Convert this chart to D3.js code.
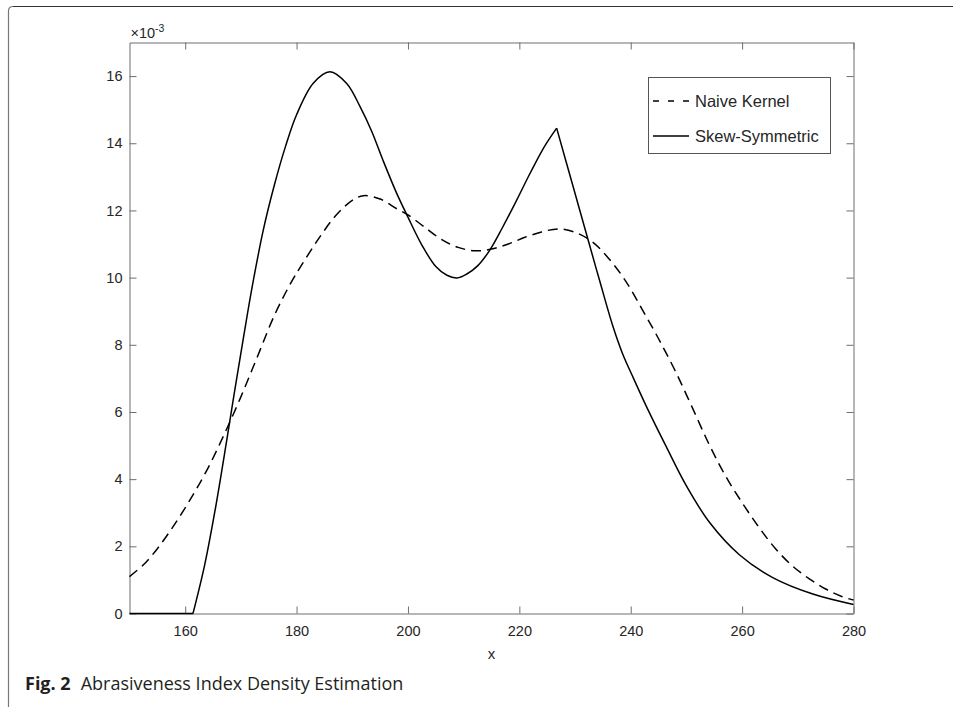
<!DOCTYPE html>
<html>

<head>
  <script src="https://d3js.org/d3.v7.min.js"></script>
  <style>
    body {
      margin: 0;
      background: #fff;
    }

    svg {
      display: block;
    }

    .tick-label {
      font-family: 'Liberation Sans', Arial, sans-serif;
      font-size: 14.5px;
      fill: #262626;
    }

    .caption {
      font-family: 'Open Sans', 'Noto Sans', sans-serif;
      font-size: 18px;
      fill: #231f20;
    }
  </style>
</head>

<body>
  <svg width="954" height="707"></svg>
</body>
<script>

  // x ticks and y ticks (y values are in units of 1e-3)
  var xTicks = [160, 180, 200, 220, 240, 260, 280];
  var yTicks = [0, 2, 4, 6, 8, 10, 12, 14, 16];

  // Naive Kernel density estimate
  var naiveX = [150, 152.5, 155, 158, 161, 164, 167, 170, 173, 176, 179, 181, 184, 187, 190, 192, 195, 198,
    200, 203, 206, 209, 212, 215, 218, 221, 224, 227, 230, 233, 236, 239, 242, 245, 248, 251, 254, 257,
    260, 263, 266, 269, 272, 275, 278, 280];
  var naiveY = [1.1, 1.45, 1.93, 2.63, 3.42, 4.3, 5.33, 6.45, 7.66, 8.87, 9.85, 10.4, 11.17, 11.84, 12.3, 12.44, 12.34, 12.05,
    11.87, 11.5, 11.14, 10.9, 10.8, 10.85, 11.0, 11.2, 11.36, 11.45, 11.35, 11.08, 10.58, 9.92, 9.07, 8.18, 7.22, 6.15, 5.06, 4.1,
    3.3, 2.57, 1.93, 1.42, 1.04, 0.73, 0.5, 0.4];

  // Skew-Symmetric estimate
  var skewX = [150, 161.4, 163.5, 165.5, 167.5, 169, 170.5, 172, 174, 176, 178, 180, 183, 186, 189, 191.4, 193.5, 195.5,
    198, 200, 202.5, 205, 207, 208.8, 210.5, 212.5, 214.7, 217, 219.5, 222, 224.5, 226.7, 229.5, 232.3, 234.5, 236.8,
    238.5, 240.5, 243, 246.4, 250, 254.2, 259.5, 265.5, 272.7, 280];
  var skewY = [0, 0, 1.45, 3.2, 5.2, 6.75, 8.25, 9.7, 11.4, 12.75, 13.9, 14.85, 15.79, 16.13, 15.78, 15.09, 14.35, 13.5,
    12.5, 11.8, 10.97, 10.33, 10.07, 9.99, 10.1, 10.35, 10.82, 11.5, 12.3, 13.13, 13.9, 14.45, 12.8, 11.15, 9.86, 8.55,
    7.75, 7.0, 6.1, 4.96, 3.8, 2.7, 1.75, 1.07, 0.58, 0.27];
  // places where the skew curve has a corner
  var skewKinks = [161.4, 226.7];

  var seriesNames = ['Naive Kernel', 'Skew-Symmetric'];

  var svg = d3.select("svg");
  var plotLeft = 129.5, plotRight = 853.5, plotTop = 42.5, plotBottom = 613.5;
  var axisColor = "#6e6e6e";

  var x = d3.scaleLinear().domain([150, 280]).range([plotLeft, plotRight]);
  var y = d3.scaleLinear().domain([0, 17]).range([plotBottom, plotTop]);

  // page frame (top rule and rounded left edge)
  svg.append("path")
    .attr("d", "M8.5,707 L8.5,11 Q8.5,6.5 13,6.5 L953,6.5")
    .attr("fill", "none").attr("stroke", "#777").attr("stroke-width", 1.2);
  svg.append("line")
    .attr("x1", 13).attr("x2", 953).attr("y1", 6.5).attr("y2", 6.5)
    .attr("stroke", "#333").attr("stroke-width", 1.2);

  // axes box with inward ticks on all sides
  var tl = 7;
  var g = svg.append("g");
  g.append("g").attr("transform", "translate(0," + plotBottom + ")")
    .call(d3.axisBottom(x).tickValues(xTicks).tickSizeInner(-tl).tickSizeOuter(0).tickPadding(12));
  g.append("g").attr("transform", "translate(0," + plotTop + ")")
    .call(d3.axisTop(x).tickValues(xTicks).tickSizeInner(-tl).tickSizeOuter(0).tickFormat(""));
  g.append("g").attr("transform", "translate(" + plotLeft + ",0)")
    .call(d3.axisLeft(y).tickValues(yTicks).tickSizeInner(-tl).tickSizeOuter(0).tickPadding(7));
  g.append("g").attr("transform", "translate(" + plotRight + ",0)")
    .call(d3.axisRight(y).tickValues(yTicks).tickSizeInner(-tl).tickSizeOuter(0).tickFormat(""));
  g.selectAll(".domain, .tick line").attr("stroke", axisColor).attr("stroke-width", 1);
  g.selectAll(".tick text").attr("class", "tick-label").attr("fill", null);

  // x axis label
  svg.append("text").attr("class", "tick-label")
    .attr("x", (plotLeft + plotRight) / 2).attr("y", 659)
    .attr("text-anchor", "middle").style("font-size", "15px").text("x");

  // exponent marker
  var ex = svg.append("text").attr("class", "tick-label").attr("x", plotLeft + 1).attr("y", 38).style("font-size", "14.5px");
  ex.append("tspan").text("\u00d710");
  ex.append("tspan").attr("dy", -6).style("font-size", "10.5px").text("-3");

  var line = d3.line()
    .x(function (d) { return x(d[0]); })
    .y(function (d) { return y(d[1]); })
    .curve(d3.curveCatmullRom.alpha(0.5));

  var plot = svg.append("g");

  var naive = d3.zip(naiveX, naiveY);
  plot.append("path").datum(naive)
    .attr("d", line)
    .attr("fill", "none").attr("stroke", "#000").attr("stroke-width", 1.5)
    .attr("stroke-dasharray", "10,6");

  // split the skew curve at its corners so each piece is smooth on its own
  var skew = d3.zip(skewX, skewY);
  var pieces = [], cur = [];
  skew.forEach(function (p) {
    cur.push(p);
    if (skewKinks.indexOf(p[0]) >= 0) {
      pieces.push(cur);
      cur = [p];
    }
  });
  pieces.push(cur);
  plot.selectAll(".skew").data(pieces).enter().append("path")
    .attr("class", "skew")
    .attr("d", line)
    .attr("fill", "none").attr("stroke", "#000").attr("stroke-width", 1.5)
    .attr("stroke-linejoin", "round");

  // legend
  var lg = svg.append("g");
  lg.append("rect").attr("x", 648.5).attr("y", 77.5).attr("width", 182).attr("height", 76)
    .attr("fill", "#fff").attr("stroke", "#555").attr("stroke-width", 1);
  var rows = [{ dash: "6,9", y: 101 }, { dash: null, y: 136 }];
  rows.forEach(function (r, i) {
    lg.append("line").attr("x1", 653).attr("x2", 689).attr("y1", r.y).attr("y2", r.y)
      .attr("stroke", "#000").attr("stroke-width", 1.5)
      .attr("stroke-dasharray", r.dash);
    lg.append("text").attr("class", "tick-label")
      .attr("x", 695).attr("y", r.y + 6)
      .style("font-size", "16.5px").attr("fill", "#000")
      .text(seriesNames[i]);
  });

  // caption
  var cap = svg.append("text").attr("class", "caption").attr("x", 25).attr("y", 690);
  cap.append("tspan").style("font-weight", "bold").text("Fig. 2");
  cap.append("tspan").attr("dx", 10).text("Abrasiveness Index Density Estimation");

</script>

</html>
